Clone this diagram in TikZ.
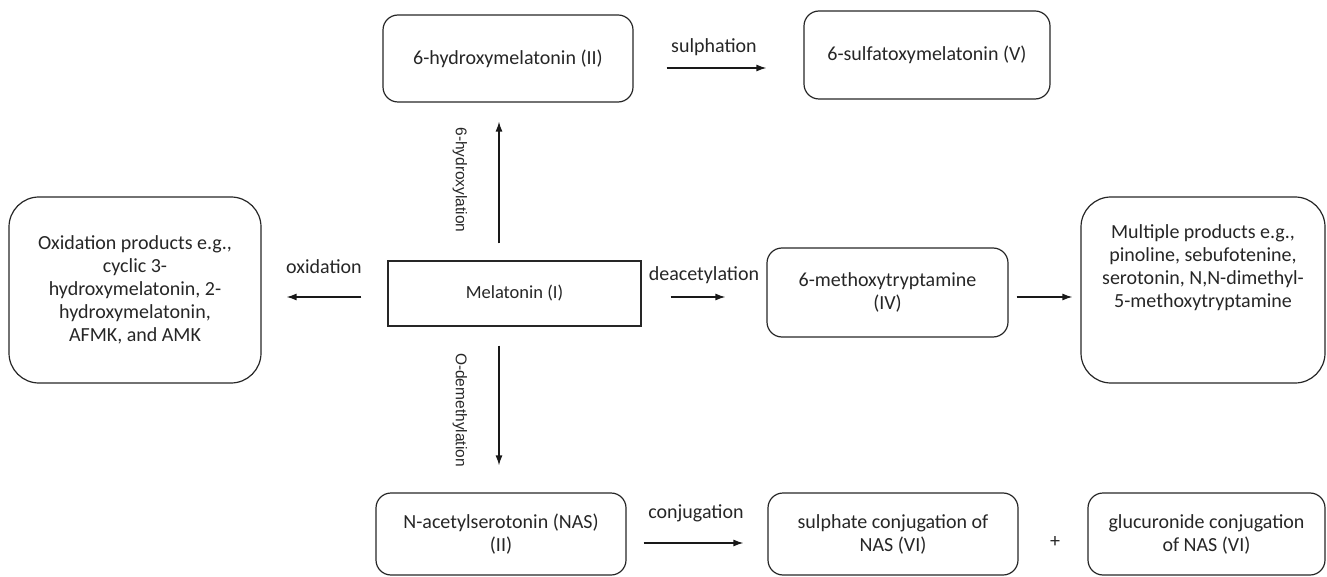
\documentclass[tikz,border=0pt]{standalone}
\usepackage{fontspec}
\setmainfont{Carlito}
\newfontfamily\labelfont{Liberation Sans}
\usetikzlibrary{arrows.meta}
\begin{document}
\begin{tikzpicture}[x=1pt,y=-1pt,
  every node/.style={text=black!85, font=\fontsize{20}{23}\selectfont},
  rbox/.style={draw=black!85, line width=1.2pt, rounded corners=15pt, align=center, inner sep=0pt},
  bigbox/.style={rbox, rounded corners=30pt},
  sbox/.style={draw=black!85, line width=1.2pt, inner sep=0pt},
  arr/.style={draw=black!90, line width=1.3pt, -{Latex[length=10pt,width=7pt]}},
  lbl/.style={inner sep=0pt},
  vlbl/.style={inner sep=0pt, rotate=-90, font=\labelfont\fontsize{15.5}{18}\selectfont}]
\useasboundingbox (0,0) rectangle (1327,577);
% boxes
\node[rbox, minimum width=250, minimum height=87] (hyd) at (508,58.5) {6-hydroxymelatonin (II)};
\node[rbox, minimum width=246, minimum height=88] (sulf) at (927,55) {6-sulfatoxymelatonin (V)};
\node[sbox, minimum width=253, minimum height=65, font=\fontsize{18.5}{22}\selectfont] (mel) at (514.5,293.5) {Melatonin (I)};
\node[bigbox, minimum width=252, minimum height=186] (oxi) at (135,290) {Oxidation products e.g.,\\cyclic 3-\\hydroxymelatonin, 2-\\hydroxymelatonin,\\AFMK, and AMK};
\node[rbox, minimum width=241, minimum height=89] (meth) at (887.5,292.5) {6-methoxytryptamine\\(IV)};
\node[bigbox, minimum width=244, minimum height=186] (multi) at (1203,290) {};
\node[align=center, inner sep=0pt] (multit) at (1203,268) {Multiple products e.g.,\\pinoline, sebufotenine,\\serotonin, N,N-dimethyl-\\5-methoxytryptamine};
\node[rbox, minimum width=250, minimum height=82] (nas) at (501,534) {N-acetylserotonin (NAS)\\(II)};
\node[rbox, minimum width=250, minimum height=82] (sulc) at (893,534) {sulphate conjugation of\\NAS (VI)};
\node[rbox, minimum width=237, minimum height=82] (gluc) at (1206.5,534) {glucuronide conjugation\\of NAS (VI)};
\node[lbl] (plus) at (1055,542) {+};
% labels
\node[lbl] (lsulph) at (714,47) {sulphation};
\node[vlbl] (lhyd) at (460,180) {6-hydroxylation};
\node[lbl] (loxi) at (324,267) {oxidation};
\node[lbl] (ldeac) at (704,275) {deacetylation};
\node[vlbl] (ldem) at (460,410) {O-demethylation};
\node[lbl] (lconj) at (696,513) {conjugation};
% arrows
\draw[arr, shorten <=33pt, shorten >=37pt] ([yshift=-9.5pt]hyd.east) -- ([yshift=-13pt]sulf.west);
\draw[arr, shorten <=17pt, shorten >=19pt] ([xshift=-15.5pt]mel.north) -- ([xshift=-9pt]hyd.south);
\draw[arr, shorten <=26pt, shorten >=25pt] ([yshift=-3.5pt]mel.west) -- ([yshift=-7pt]oxi.east);
\draw[arr, shorten <=29pt, shorten >=41pt] ([yshift=-3.5pt]mel.east) -- ([yshift=-4.5pt]meth.west);
\draw[arr, shorten <=8pt, shorten >=8pt] ([yshift=-4.5pt]meth.east) -- ([yshift=-7pt]multi.west);
\draw[arr, shorten <=19pt, shorten >=27pt] ([xshift=-15.5pt]mel.south) -- ([xshift=-2pt]nas.north);
\draw[arr, shorten <=17pt, shorten >=24pt] ([yshift=-9pt]nas.east) -- ([yshift=-9pt]sulc.west);
\end{tikzpicture}
\end{document}
